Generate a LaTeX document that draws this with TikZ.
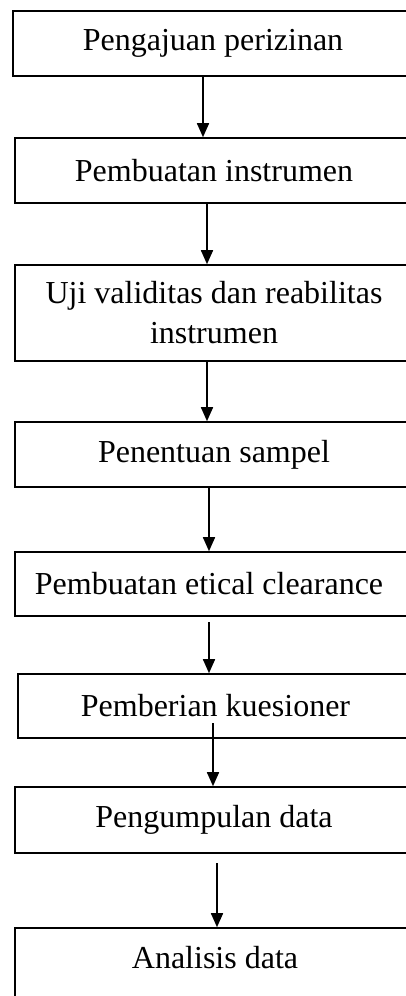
\documentclass[tikz,border=0pt]{standalone}
\usepackage{fontspec}
\setmainfont{Liberation Serif}
\usetikzlibrary{arrows.meta}
\tikzset{
  stepbox/.style={draw, line width=1.6pt, inner sep=0pt, align=center,
    font=\fontsize{32}{40}\selectfont},
  steptext/.style={inner sep=0pt, font=\fontsize{32}{40}\selectfont},
  flow/.style={line width=1.6pt, -{Triangle[width=12pt,length=14pt]}}
}
\begin{document}
\begin{tikzpicture}[x=1pt,y=-1pt]
\useasboundingbox (0,0) rectangle (406,996);
\clip (0,0) rectangle (406,996);
% boxes: center x, center y, width, height
\node[stepbox, minimum width=400pt, minimum height=65pt] (b1) at (213,43.5) {Pengajuan perizinan};
\node[stepbox, minimum width=398pt, minimum height=65pt] (b2) at (214,170.5) {Pembuatan instrumen};
\node[stepbox, minimum width=398pt, minimum height=96pt] (b3) at (214,313) {Uji validitas dan reabilitas\\instrumen};
\node[stepbox, minimum width=398pt, minimum height=65pt] (b4) at (214,454.5) {Penentuan sampel};
\node[stepbox, minimum width=398pt, minimum height=64pt] (b5) at (214,584) {};
\node[steptext] (t5) at (209,584) {Pembuatan etical clearance};
\node[stepbox, minimum width=395pt, minimum height=64pt] (b6) at (215.5,706) {Pemberian kuesioner};
\node[stepbox, minimum width=398pt, minimum height=66pt] (b7) at (214,820) {Pengumpulan data};
\node[stepbox, minimum width=398pt, minimum height=90pt] (b8) at (214,973) {};
\node[steptext] (t8) at (215,958) {Analisis data};
% arrow start points
\coordinate (s1) at (203,76);
\coordinate (s2) at (207,203);
\coordinate (s3) at (207,361);
\coordinate (s4) at (209,487);
\coordinate (s5) at (209,622);
\coordinate (s6) at (213,723);
\coordinate (s7) at (217,863);
\draw[flow] (s1) -- (s1 |- b2.north);
\draw[flow] (s2) -- (s2 |- b3.north);
\draw[flow] (s3) -- (s3 |- b4.north);
\draw[flow] (s4) -- (s4 |- b5.north);
\draw[flow] (s5) -- (s5 |- b6.north);
\draw[flow] (s6) -- (s6 |- b7.north);
\draw[flow] (s7) -- (s7 |- b8.north);
\end{tikzpicture}
\end{document}
